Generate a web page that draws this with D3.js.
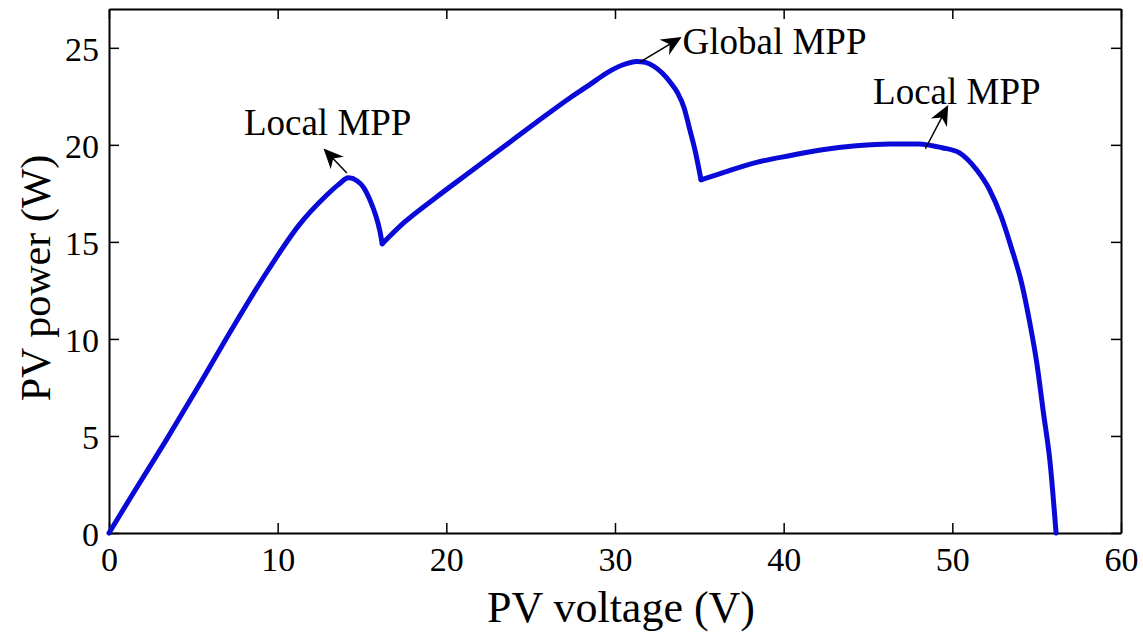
<!DOCTYPE html>
<html>
<head>
<meta charset="utf-8">
<script src="https://cdnjs.cloudflare.com/ajax/libs/d3/7.8.5/d3.min.js"></script>
<style>
	body{margin:0;background:#fff;}
	svg{display:block;font-family:"Liberation Serif","Times New Roman",serif;}
</style>
</head>
<body>
<div id="chart"></div>
<script>
// PV curve (voltage in V, power in W)
var voltage=[0,1.4,3.4,5.4,7.35,9.4,11.3,12.9,13.6,14.2,14.7,15.1,15.5,15.8,16.05,16.2,
	17.5,19.4,21.4,23.4,25.4,27.3,28.5,29.5,30.4,31.3,31.8,32.3,32.8,33.3,33.7,34.1,34.4,34.75,35.1,
	36.5,38.4,40.4,42.3,44.3,46.3,48.0,49.4,50.4,51.45,52.2,52.9,53.5,54.1,54.6,55.0,55.4,55.8,56.15];
var power=[0,2.0,4.8,7.7,10.6,13.5,15.9,17.4,17.95,18.3,18.15,17.8,17.1,16.4,15.6,14.9,
	16.0,17.3,18.6,19.9,21.2,22.4,23.1,23.7,24.1,24.3,24.25,24.05,23.7,23.2,22.7,21.9,20.9,19.7,18.2,
	18.6,19.1,19.45,19.75,19.95,20.05,20.05,19.85,19.6,18.7,17.7,16.3,14.7,12.9,10.8,8.8,6.2,3.6,0];
// the curve has sharp corners at these voltages (bypass diodes switching)
var corners=[16.2,35.1];

var xTicks=[0,10,20,30,40,50,60];
var yTicks=[0,5,10,15,20,25];

// annotations: label, text anchor (V,P), arrow tail (V,P), arrow tip (V,P)
var noteText=["Local MPP","Global MPP","Local MPP"];
var noteAt=[[8.0,20.5],[34.0,24.7],[45.3,22.1]];
var arrowFrom=[[14.1,18.55],[31.5,24.28],[48.4,19.8]];
var arrowTo=[[12.8,19.74],[33.85,25.5],[49.7,21.96]];

var w=1143,h=642;
var pl=109,pr=1121,pt=9,pb=533;

var x=d3.scaleLinear().domain([0,60]).range([pl,pr]);
var y=d3.scaleLinear().domain([0,27]).range([pb,pt]);

var svg=d3.select("#chart").append("svg")
	.attr("width",w)
	.attr("height",h);

svg.append("defs").append("marker")
	.attr("id","head")
	.attr("viewBox","0 0 10 10")
	.attr("refX",9).attr("refY",5)
	.attr("markerWidth",20).attr("markerHeight",20)
	.attr("markerUnits","userSpaceOnUse")
	.attr("orient","auto")
	.append("path")
	.attr("d","M0,0.5 L10,5 L0,9.5 L3,5 Z")
	.attr("fill","#000");

// box with inward ticks on all four sides
var xAxis=d3.axisBottom(x).tickValues(xTicks).tickSizeInner(-10).tickSizeOuter(0).tickPadding(14);
var yAxis=d3.axisLeft(y).tickValues(yTicks).tickSizeInner(-10).tickSizeOuter(0).tickPadding(10);

var gx=svg.append("g").attr("transform","translate(0,"+pb+")").call(xAxis);
var gy=svg.append("g").attr("transform","translate("+pl+",0)").call(yAxis);
svg.append("g").attr("transform","translate(0,"+pt+")")
	.call(d3.axisTop(x).tickValues(xTicks).tickSizeInner(-10).tickSizeOuter(0).tickFormat(""));
svg.append("g").attr("transform","translate("+pr+",0)")
	.call(d3.axisRight(y).tickValues(yTicks).tickSizeInner(-10).tickSizeOuter(0).tickFormat(""));

svg.selectAll(".domain").attr("stroke","#000").attr("stroke-width",2);
svg.selectAll(".tick line").attr("stroke","#000").attr("stroke-width",1.5);
svg.selectAll(".tick text")
	.attr("fill","#000")
	.attr("font-family","Liberation Serif, Times New Roman, serif")
	.attr("font-size","34px");
gy.selectAll(".tick text").attr("dy","0.36em");

// the curve, one smooth piece between each pair of corners
var pts=voltage.map(function(v,i){return [v,power[i]];});
var cuts=[0].concat(corners.map(function(c){return voltage.indexOf(c);}),[voltage.length-1]);
var pieces=[];
for(var i=0;i<cuts.length-1;i++){
	pieces.push(pts.slice(cuts[i],cuts[i+1]+1));
}
var line=d3.line()
	.x(function(d){return x(d[0]);})
	.y(function(d){return y(d[1]);})
	.curve(d3.curveMonotoneX);

svg.selectAll(".pv").data(pieces).enter().append("path")
	.attr("class","pv")
	.attr("d",line)
	.attr("fill","none")
	.attr("stroke","#0a0ad8")
	.attr("stroke-width",5)
	.attr("stroke-linecap","round")
	.attr("stroke-linejoin","round");

// arrows + labels
svg.selectAll(".arrow").data(arrowFrom).enter().append("line")
	.attr("class","arrow")
	.attr("x1",function(d){return x(d[0]);})
	.attr("y1",function(d){return y(d[1]);})
	.attr("x2",function(d,i){return x(arrowTo[i][0]);})
	.attr("y2",function(d,i){return y(arrowTo[i][1]);})
	.attr("stroke","#000")
	.attr("stroke-width",1.5)
	.attr("marker-end","url(#head)");

svg.selectAll(".note").data(noteText).enter().append("text")
	.attr("class","note")
	.attr("x",function(d,i){return x(noteAt[i][0]);})
	.attr("y",function(d,i){return y(noteAt[i][1]);})
	.attr("font-size","37px")
	.text(function(d){return d;});

// axis titles
svg.append("text")
	.attr("x",(pl+pr)/2+6)
	.attr("y",622)
	.attr("text-anchor","middle")
	.attr("font-size","44px")
	.text("PV voltage (V)");

svg.append("text")
	.attr("transform","translate(50,"+((pt+pb)/2+7)+") rotate(-90)")
	.attr("text-anchor","middle")
	.attr("font-size","42px")
	.text("PV power (W)");
</script>
</body>
</html>
